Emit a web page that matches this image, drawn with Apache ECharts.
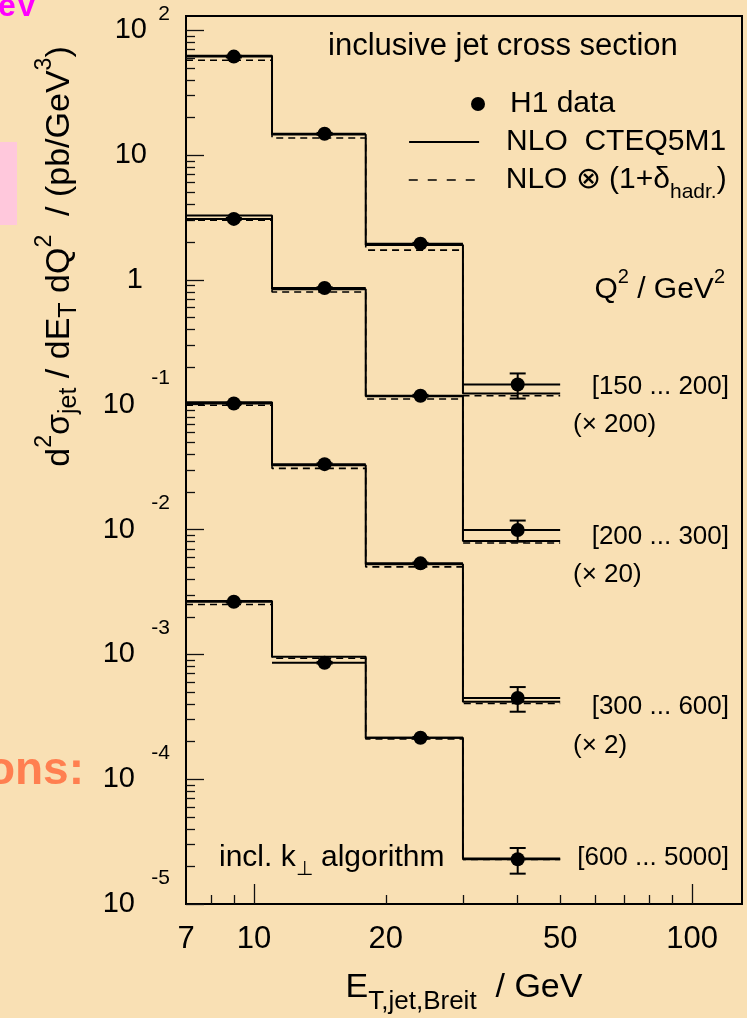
<!DOCTYPE html>
<html><head><meta charset="utf-8">
<script src="https://cdn.jsdelivr.net/npm/echarts@6/dist/echarts.min.js"></script>
<style>html,body{margin:0;padding:0;background:#F9E0B4;}#c{width:747px;height:1018px;}</style>
</head><body><div id="c"></div>
<script>
// ---------------- data ----------------
const q2Bins = ['[150 ... 200]', '[200 ... 300]', '[300 ... 600]', '[600 ... 5000]'];
const q2Factors = ['(\u00d7 200)', '(\u00d7 20)', '(\u00d7 2)', ''];
const etEdges = [7, 11, 18, 30, 50];
const etMean = [9.0, 14.5, 24.0, 40.0];

// Q2 150-200 GeV2 (x 200)
const h1_150_200     = [61.5, 14.8, 1.95, 0.145];
const h1Err_150_200  = [0.9, 0.25, 0.03, 0.033];
const nlo_150_200    = [62.5, 14.6, 1.90, 0.123];
const nloHad_150_200 = [57.5, 13.7, 1.73, 0.118];
// Q2 200-300 GeV2 (x 20)
const h1_200_300     = [3.08, 0.86, 0.118, 0.0099];
const h1Err_200_300  = [0.05, 0.013, 0.002, 0.0019];
const nlo_200_300    = [3.28, 0.84, 0.117, 0.0081];
const nloHad_200_300 = [3.01, 0.80, 0.111, 0.0078];
// Q2 300-600 GeV2 (x 2)
const h1_300_600     = [0.1023, 0.0334, 0.00536, 0.000447];
const h1Err_300_600  = [0.0015, 0.0005, 0.00008, 0.0001];
const nlo_300_600    = [0.1047, 0.0328, 0.00528, 0.000417];
const nloHad_300_600 = [0.0990, 0.0309, 0.00502, 0.000404];
// Q2 600-5000 GeV2 (x 1)
const h1_600_5000     = [0.00264, 0.000857, 0.000215, 0.0000228];
const h1Err_600_5000  = [0.00004, 0.000013, 0.000003, 0.0000053];
const nlo_600_5000    = [0.00267, 0.000957, 0.000215, 0.0000232];
const nloHad_600_5000 = [0.00251, 0.000930, 0.000210, 0.0000227];

// ticks / labels
const xLabelValues = [7, 10, 20, 50, 100];
const xMajorTickValues = [10, 100];
const xMinorTickValues = [8, 9, 20, 30, 40, 50, 60, 70, 80, 90];
const yLabelValues = [1e-5, 1e-4, 1e-3, 1e-2, 1e-1, 1, 10, 100];
const yDecades = [1e-5, 1e-4, 1e-3, 1e-2, 1e-1, 1, 10];
const yMinorMantissas = [2, 3, 4, 5, 6, 7, 8, 9];
const yMinorTickValues = [];
yDecades.forEach(d => yMinorMantissas.forEach(m => yMinorTickValues.push(+(m * d).toPrecision(3))));

// ---------------- chart ----------------
const FONT = '"Liberation Sans", Arial, Helvetica, sans-serif';
const NLO = 'NLO  CTEQ5M1';
const HAD = 'NLO \u2297 (1+\u03b4hadr.)';
const H1 = 'H1 data';

const groups = [
  {h1: h1_150_200, err: h1Err_150_200, nlo: nlo_150_200, had: nloHad_150_200},
  {h1: h1_200_300, err: h1Err_200_300, nlo: nlo_200_300, had: nloHad_200_300},
  {h1: h1_300_600, err: h1Err_300_600, nlo: nlo_300_600, had: nloHad_300_600},
  {h1: h1_600_5000, err: h1Err_600_5000, nlo: nlo_600_5000, had: nloHad_600_5000}
];
const stepData = vals => etEdges.map((e, i) => [e, vals[Math.min(i, vals.length - 1)]]);

const series = [];
groups.forEach(g => {
  series.push({type: 'line', name: NLO, step: 'end', symbol: 'none', data: stepData(g.nlo),
    lineStyle: {color: '#000', width: 2}, itemStyle: {color: '#000'}, z: 2, silent: true});
  series.push({type: 'line', name: HAD, step: 'end', symbol: 'none', data: stepData(g.had),
    lineStyle: {color: '#000', width: 1.6, type: [7, 5]}, itemStyle: {color: '#000'}, z: 2, silent: true});
});
const pts = [], bars = [];
groups.forEach(g => g.h1.forEach((v, i) => {
  pts.push([etMean[i], v]);
  bars.push([etMean[i], v, g.err[i], etEdges[i], etEdges[i + 1]]);
}));
series.push({type: 'scatter', name: H1, data: pts, symbol: 'circle', symbolSize: 14,
  itemStyle: {color: '#000', opacity: 1}, z: 5, silent: true});
series.push({type: 'custom', name: H1, data: bars, z: 4, silent: true,
  renderItem: (params, api) => {
    const x = api.value(0), y = api.value(1), e = api.value(2), x0 = api.value(3), x1 = api.value(4);
    const pL = api.coord([x0, y]), pR = api.coord([x1, y]);
    const pT = api.coord([x, y + e]), pB = api.coord([x, y - e]);
    const st = {stroke: '#000', lineWidth: 2};
    const c = 8;
    return {type: 'group', children: [
      {type: 'line', shape: {x1: pL[0], y1: pL[1], x2: pR[0], y2: pR[1]}, style: st},
      {type: 'line', shape: {x1: pT[0], y1: pT[1], x2: pB[0], y2: pB[1]}, style: st},
      {type: 'line', shape: {x1: pT[0] - c, y1: pT[1], x2: pT[0] + c, y2: pT[1]}, style: st},
      {type: 'line', shape: {x1: pB[0] - c, y1: pB[1], x2: pB[0] + c, y2: pB[1]}, style: st}
    ]};
  }});

const tickStyle = {color: '#111', width: 1.3};
const labelRich = {
  b: {fontSize: 29, fontFamily: FONT, color: '#000'},
  pe: {fontSize: 21, fontFamily: FONT, color: '#000', width: 23, align: 'right', padding: [0, 0, 32, 0]},
  ne: {fontSize: 21, fontFamily: FONT, color: '#000', width: 35, align: 'right', padding: [0, 0, 52, 0]},
  g1: {fontSize: 21, width: 23},
  g0: {fontSize: 21, width: 27}
};
const noSymbol = {color: 'rgba(0,0,0,0)', borderColor: 'rgba(0,0,0,0)', borderWidth: 0, opacity: 0};

const option = {
  backgroundColor: '#F9E0B4',
  animation: false,
  textStyle: {fontFamily: FONT},
  grid: {left: 186, right: 5, top: 16, bottom: 114, show: true, borderColor: '#000', borderWidth: 2,
    backgroundColor: 'transparent', outerBoundsMode: 'none'},
  xAxis: [
    {type: 'log', logBase: 10, min: 7, max: 130, position: 'bottom',
      axisLine: {show: false}, splitLine: {show: false},
      axisTick: {show: true, inside: true, length: 20, customValues: xMajorTickValues, lineStyle: tickStyle},
      axisLabel: {customValues: xLabelValues, margin: 20, fontSize: 31, color: '#000', fontFamily: FONT,
        formatter: v => String(Math.round(v))},
      name: '{m|E}{s|T,jet,Breit}{m|  / GeV}', nameLocation: 'middle', nameGap: 62,
      nameTextStyle: {color: '#000', fontFamily: FONT, fontSize: 34, lineHeight: 44,
        rich: {m: {fontSize: 34, fontFamily: FONT, color: '#000'},
               s: {fontSize: 26, fontFamily: FONT, color: '#000', padding: [28, 0, 0, 0]}}}},
    {type: 'log', logBase: 10, min: 7, max: 130, position: 'bottom', offset: 0,
      axisLine: {show: false}, splitLine: {show: false}, axisLabel: {show: false},
      axisTick: {show: true, inside: true, length: 9, customValues: xMinorTickValues, lineStyle: tickStyle}}
  ],
  yAxis: [
    {type: 'log', logBase: 10, min: 1e-5, max: 130, position: 'left',
      axisLine: {show: false}, splitLine: {show: false},
      axisTick: {show: true, inside: true, length: 18, customValues: yLabelValues, lineStyle: tickStyle},
      axisLabel: {customValues: yLabelValues, margin: 16, rich: labelRich,
        formatter: v => {
          const e = Math.round(Math.log10(v));
          if (e === 0) return '{b|1}{g0| }';
          if (e === 1) return '{b|10}{g1| }';
          if (e > 0) return '{b|10}{pe|' + e + '}';
          return '{b|10}{ne|' + e + '}';
        }},
      name: '{m|d}{sup|2}{m|\u03c3}{sub|jet}{m| / dE}{sub|T}{m| dQ}{sup|2}{m|  / (pb/GeV}{sup|3}{m|)}',
      nameLocation: 'middle', nameRotate: 90, nameGap: 106,
      nameTextStyle: {color: '#000', fontFamily: FONT, fontSize: 34, lineHeight: 40, padding: [0, 0, 0, 407],
        rich: {m: {fontSize: 34, fontFamily: FONT, color: '#000'},
               sup: {fontSize: 23, fontFamily: FONT, color: '#000', padding: [0, 0, 30, 0]},
               sub: {fontSize: 25, fontFamily: FONT, color: '#000', padding: [18, 0, 0, 0]}}}},
    {type: 'log', logBase: 10, min: 1e-5, max: 130, position: 'left', offset: 0,
      axisLine: {show: false}, splitLine: {show: false}, axisLabel: {show: false},
      axisTick: {show: true, inside: true, length: 9, customValues: yMinorTickValues, lineStyle: tickStyle}}
  ],
  legend: [
    {data: [H1], left: 471, top: 89, padding: 0, itemWidth: 54, itemHeight: 14, icon: 'circle', selectedMode: false,
      itemStyle: {color: '#000'},
      textStyle: {fontSize: 30, color: '#000', fontFamily: FONT, lineHeight: 30}},
    {data: [NLO], left: 408, top: 127, padding: 0, itemWidth: 70, itemHeight: 14, selectedMode: false,
      itemStyle: noSymbol, lineStyle: {color: '#000', width: 2.2},
      formatter: n => '{sp| }{m|' + n + '}',
      textStyle: {fontSize: 30, color: '#000', fontFamily: FONT, lineHeight: 30,
        rich: {sp: {width: 22}, m: {fontSize: 30, fontFamily: FONT, color: '#000'}}}},
    {data: [HAD], left: 408, top: 165, padding: 0, itemWidth: 70, itemHeight: 14,
      selectedMode: false, itemStyle: noSymbol, lineStyle: {color: '#000', width: 1.5, type: [9, 10]},
      formatter: () => '{sp| }{m|NLO \u2297 (1+\u03b4}{s|hadr.}{m|)}',
      textStyle: {fontSize: 30, color: '#000', fontFamily: FONT, lineHeight: 30,
        rich: {sp: {width: 22}, m: {fontSize: 30, fontFamily: FONT, color: '#000'},
               s: {fontSize: 21, fontFamily: FONT, color: '#000', padding: [24, 0, 0, 0]}}}}
  ],
  graphic: [
    {type: 'text', left: -2, top: -9, z: 0, silent: true,
      style: {text: 'eV', fill: '#FF00FF', font: 'bold 32px ' + FONT}},
    {type: 'rect', shape: {x: 0, y: 142, width: 17, height: 83}, style: {fill: '#FFC8DC'}, silent: true, z: 0},
    {type: 'text', x: 84, y: 771, z: 0, silent: true,
      style: {text: 'ons:', fill: '#FF7F50', font: 'bold 46px ' + FONT, align: 'right', verticalAlign: 'middle'}},
    {type: 'text', x: 328, y: 46, silent: true,
      style: {text: 'inclusive jet cross section', fill: '#000', font: '31px ' + FONT, verticalAlign: 'middle'}},
    {type: 'text', x: 725, y: 290, silent: true,
      style: {text: '{m|Q}{p|2}{m| / GeV}{p|2}', align: 'right', verticalAlign: 'middle', lineHeight: 40,
        rich: {m: {fontSize: 30, fontFamily: FONT, fill: '#000'},
               p: {fontSize: 20, fontFamily: FONT, fill: '#000', padding: [0, 0, 26, 0]}}}},
    {type: 'text', x: 729, y: 387, silent: true, style: {text: q2Bins[0], fill: '#000', font: '26px ' + FONT, align: 'right', verticalAlign: 'middle'}},
    {type: 'text', x: 729, y: 537, silent: true, style: {text: q2Bins[1], fill: '#000', font: '26px ' + FONT, align: 'right', verticalAlign: 'middle'}},
    {type: 'text', x: 729, y: 707, silent: true, style: {text: q2Bins[2], fill: '#000', font: '26px ' + FONT, align: 'right', verticalAlign: 'middle'}},
    {type: 'text', x: 729, y: 858, silent: true, style: {text: q2Bins[3], fill: '#000', font: '26px ' + FONT, align: 'right', verticalAlign: 'middle'}},
    {type: 'text', x: 573, y: 425, silent: true, style: {text: q2Factors[0], fill: '#000', font: '26px ' + FONT, verticalAlign: 'middle'}},
    {type: 'text', x: 573, y: 575, silent: true, style: {text: q2Factors[1], fill: '#000', font: '26px ' + FONT, verticalAlign: 'middle'}},
    {type: 'text', x: 573, y: 746, silent: true, style: {text: q2Factors[2], fill: '#000', font: '26px ' + FONT, verticalAlign: 'middle'}},
    {type: 'text', x: 219, y: 858, silent: true,
      style: {text: '{m|incl. k}{s|\u22a5}{m| algorithm}', verticalAlign: 'middle', lineHeight: 40,
        rich: {m: {fontSize: 30, fontFamily: FONT, fill: '#000'},
               s: {fontSize: 20, fontFamily: FONT, fill: '#000', padding: [22, 0, 0, 0]}}}}
  ],
  series: series
};
const chart = echarts.init(document.getElementById('c'), null, {renderer: 'canvas'});
chart.setOption(option);
</script></body></html>
